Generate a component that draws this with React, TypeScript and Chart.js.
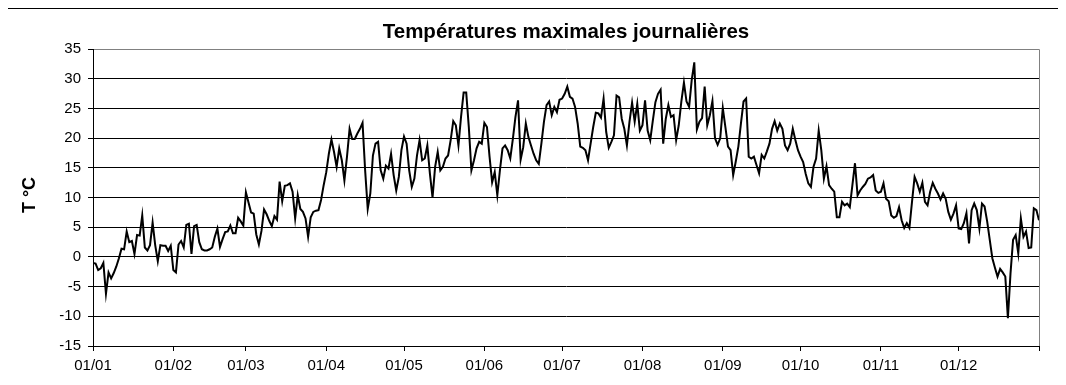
import React, { useEffect, useRef } from "react";
import { Chart, registerables } from "chart.js";

Chart.register(...registerables);

const TITLE = "Températures maximales journalières";
const Y_TITLE = "T °C";
const MONTH_LABELS = ["01/01", "01/02", "01/03", "01/04", "01/05", "01/06", "01/07", "01/08", "01/09", "01/10", "01/11", "01/12"];
const MONTH_STARTS = [0, 31, 59, 90, 120, 151, 181, 212, 243, 273, 304, 334, 365];
const Y_MIN = -15;
const Y_MAX = 35;
const Y_STEP = 5;

const jan = [-1.0, -1.1, -2.2, -1.9, -1.0, -6.2, -2.6, -3.6, -2.7, -1.6, -0.2, 1.4, 1.3, 4.3, 2.5, 2.7, 0.5, 3.7, 3.6, 7.0, 1.6, 1.1, 2.0, 5.8, 2.0, -0.7, 2.0, 1.9, 1.9, 1.0, 1.9];
const feb = [-2.2, -2.6, 2.1, 2.7, 1.6, 5.4, 5.6, 0.5, 5.2, 5.4, 2.5, 1.3, 1.1, 1.1, 1.3, 1.6, 3.4, 4.8, 1.7, 3.0, 4.2, 4.3, 5.3, 4.0, 4.0, 6.6, 6.0, 5.3];
const mar = [10.9, 9.2, 7.5, 7.3, 3.8, 2.1, 4.4, 8.0, 7.2, 6.1, 5.2, 6.9, 6.3, 12.7, 9.4, 12.0, 12.1, 12.4, 11.0, 6.5, 10.4, 8.1, 7.6, 6.5, 3.4, 6.7, 7.6, 7.8, 7.9, 9.6, 12.1];
const apr = [14.3, 17.4, 19.8, 17.7, 15.2, 18.3, 16.3, 12.9, 16.9, 21.6, 19.9, 19.9, 20.8, 21.6, 22.6, 14.6, 8.1, 10.7, 17.1, 19.1, 19.4, 14.6, 13.2, 15.4, 14.9, 17.4, 13.8, 11.2, 13.5, 18.0];
const may = [20.3, 19.1, 14.6, 11.8, 13.2, 17.1, 19.7, 16.3, 16.6, 18.8, 14.0, 10.0, 15.2, 17.7, 14.6, 15.2, 16.6, 17.1, 19.7, 22.9, 22.2, 18.8, 23.6, 27.7, 27.7, 21.9, 14.6, 16.3, 18.3, 19.4, 19.1];
const jun = [22.6, 21.9, 16.9, 12.6, 14.3, 10.4, 14.6, 18.3, 18.8, 18.0, 16.6, 19.9, 23.6, 26.4, 16.4, 18.5, 22.5, 20.2, 18.8, 17.4, 16.3, 15.7, 19.1, 22.8, 25.6, 26.2, 23.9, 25.3, 24.4, 26.5];
const jul = [26.7, 27.5, 28.7, 27.0, 26.7, 25.3, 22.5, 18.6, 18.4, 18.0, 16.3, 19.1, 21.9, 24.3, 24.2, 23.5, 26.7, 21.1, 18.4, 19.4, 20.5, 27.2, 26.9, 23.3, 21.6, 18.8, 22.8, 26.0, 22.8, 25.8, 21.3];
const aug = [22.2, 26.4, 21.3, 19.7, 23.0, 26.1, 27.5, 28.2, 19.1, 23.3, 25.6, 23.6, 23.9, 19.7, 22.2, 26.2, 29.4, 26.2, 25.3, 29.8, 32.8, 21.5, 22.8, 23.4, 28.7, 22.2, 23.9, 26.3, 20.0, 18.9, 20.0];
const sep = [25.1, 21.9, 18.6, 18.0, 13.8, 16.1, 18.6, 22.5, 26.2, 26.7, 16.9, 16.6, 16.9, 15.5, 14.1, 17.2, 16.6, 17.8, 19.1, 21.6, 22.9, 21.3, 22.5, 21.6, 18.8, 18.0, 19.1, 21.6, 19.7, 18.0];
const oct = [16.9, 16.0, 14.0, 12.4, 11.8, 15.2, 16.6, 21.3, 18.0, 13.2, 15.3, 12.1, 11.5, 11.0, 6.7, 6.7, 9.3, 8.7, 9.0, 8.4, 12.1, 15.8, 10.4, 11.2, 11.8, 12.3, 13.2, 13.4, 13.8, 11.2, 10.8];
const nov = [11.0, 12.4, 9.8, 9.4, 7.0, 6.6, 6.9, 8.4, 6.2, 4.9, 5.7, 4.9, 9.3, 13.5, 12.4, 11.0, 12.5, 9.3, 8.7, 11.0, 12.5, 11.5, 10.7, 9.7, 10.7, 9.8, 7.6, 6.3, 7.3, 8.7];
const dec = [4.8, 4.7, 5.7, 7.4, 2.3, 7.9, 9.0, 7.9, 4.8, 9.0, 8.5, 6.0, 2.9, -0.2, -1.8, -3.3, -2.0, -2.6, -3.3, -10.3, -2.8, 2.9, 3.7, 0.6, 6.5, 3.4, 4.3, 1.5, 1.6, 8.2, 7.9, 6.2];

const dailyMax = [...jan, ...feb, ...mar, ...apr, ...may, ...jun, ...jul, ...aug, ...sep, ...oct, ...nov, ...dec];

const W = 1050;
const H = 368;
const FONT = '"Liberation Sans", Arial, sans-serif';

const decor = {
  id: "decor",
  afterDraw(chart: any) {
    const { ctx, chartArea } = chart;
    ctx.save();
    ctx.strokeStyle = "#808080";
    ctx.lineWidth = 1;
    ctx.beginPath();
    const rx = Math.round(chartArea.right) + 0.5;
    ctx.moveTo(rx, chartArea.top);
    ctx.lineTo(rx, chartArea.bottom);
    ctx.stroke();

    ctx.fillStyle = "#000";
    ctx.font = `bold 20.5px ${FONT}`;
    ctx.textAlign = "center";
    ctx.textBaseline = "middle";
    ctx.fillText(TITLE, (chartArea.left + chartArea.right) / 2, 23);

    ctx.translate(22, 186);
    ctx.rotate(-Math.PI / 2);
    ctx.font = `bold 18px ${FONT}`;
    ctx.fillText(Y_TITLE, 0, 0);
    ctx.restore();
  },
};

export default function App() {
  const ref = useRef<HTMLCanvasElement | null>(null);
  useEffect(() => {
    if (!ref.current) return;
    const chart = new Chart(ref.current, {
      type: "line",
      data: {
        datasets: [
          {
            data: dailyMax.map((y, i) => ({ x: i, y })),
            borderColor: "#000",
            borderWidth: 2,
            pointRadius: 0,
            tension: 0,
            fill: false,
          },
        ],
      },
      options: {
        responsive: false,
        animation: false,
        devicePixelRatio: 1,
        events: [],
        layout: { padding: { left: 0, right: 19, top: 40.3, bottom: 0 } },
        plugins: { legend: { display: false }, tooltip: { enabled: false }, title: { display: false } },
        scales: {
          x: {
            type: "linear",
            min: 0,
            max: 365,
            afterBuildTicks: (s: any) => {
              s.ticks = MONTH_STARTS.map((v) => ({ value: v }));
            },
            afterFit: (s: any) => {
              s.height = 31;
            },
            ticks: {
              autoSkip: false,
              maxRotation: 0,
              minRotation: 0,
              padding: 6,
              color: "#000",
              font: { size: 15, family: FONT },
              callback: (v: any) => MONTH_LABELS[MONTH_STARTS.indexOf(Number(v))] ?? "",
            },
            grid: { drawOnChartArea: false, drawTicks: true, tickLength: 5, tickColor: "#000", color: "#000" },
            border: { color: "#000", width: 1 },
          },
          y: {
            type: "linear",
            min: Y_MIN,
            max: Y_MAX,
            afterFit: (s: any) => {
              s.width = 85;
            },
            ticks: { stepSize: Y_STEP, padding: 7, color: "#000", font: { size: 15, family: FONT } },
            grid: {
              color: (c: any) => (c.tick && c.tick.value === Y_MAX ? "#808080" : "#000"),
              tickColor: "#000",
              tickLength: 5,
              lineWidth: 1,
            },
            border: { color: "#000", width: 1 },
          },
        },
      },
      plugins: [decor],
    });
    return () => chart.destroy();
  }, []);

  return (
    <div
      style={{
        marginLeft: -1,
        width: 1051,
        height: 369,
        borderTop: "1px solid #000",
        borderLeft: "1px solid #000",
        boxSizing: "border-box",
        background: "#fff",
      }}
    >
      <canvas ref={ref} width={W} height={H} style={{ width: W + "px", height: H + "px", display: "block" }} />
    </div>
  );
}
